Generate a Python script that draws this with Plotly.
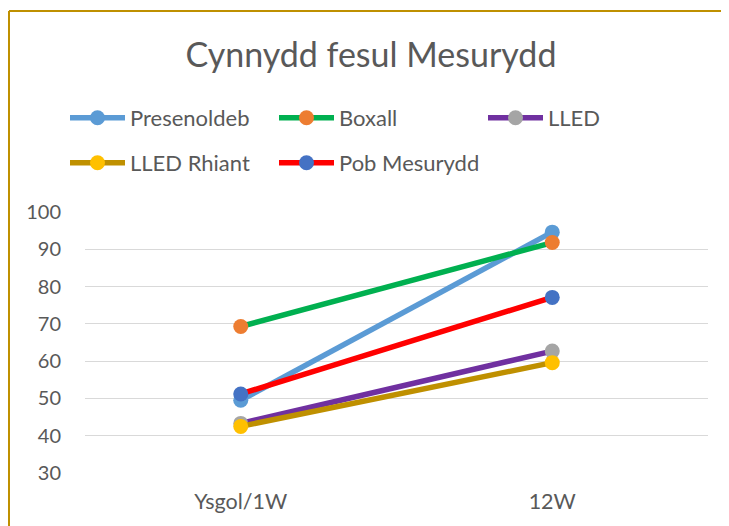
import plotly.graph_objects as go

categories = ["Ysgol/1W", "12W"]
series_names = ["Presenoldeb", "Boxall", "LLED", "LLED Rhiant", "Pob Mesurydd"]
presenoldeb = [49.5, 94.6]
boxall = [69.3, 91.8]
lled = [43.3, 62.7]
lled_rhiant = [42.5, 59.6]
pob_mesurydd = [51.2, 77.1]
y_ticks = [30, 40, 50, 60, 70, 80, 90, 100]

values = [presenoldeb, boxall, lled, lled_rhiant, pob_mesurydd]
line_colors = ["#5B9BD5", "#00B050", "#7030A0", "#BF9000", "#FF0000"]
marker_colors = ["#5B9BD5", "#ED7D31", "#A5A5A5", "#FFC000", "#4472C4"]
legend_ids = ["legend", "legend", "legend", "legend2", "legend2"]

FONT = "Lato"
TXT = "#595959"

fig = go.Figure()
for name, vals, lc, mc, lg in zip(series_names, values, line_colors, marker_colors, legend_ids):
    fig.add_trace(go.Scatter(
        x=categories, y=vals, name=name, mode="lines+markers",
        line=dict(color=lc, width=5.5),
        marker=dict(color=mc, size=15),
        legend=lg,
    ))

# the page body adds an 8px offset, so the figure is 8px smaller
W, H = 721, 518
L, R, T, B = 77, 21, 204, 53

leg_common = dict(orientation="h", x=57 / W, xanchor="left", xref="container",
                  yanchor="middle", yref="container",
                  entrywidth=139, entrywidthmode="pixels", itemwidth=55,
                  font=dict(family=FONT, size=22, color=TXT),
                  bgcolor="rgba(0,0,0,0)", traceorder="normal")

fig.update_layout(
    width=W, height=H,
    margin=dict(l=L, r=R, t=T, b=B),
    paper_bgcolor="white", plot_bgcolor="white",
    font=dict(family=FONT, color=TXT, size=20),
    title=dict(text="Cynnydd fesul Mesurydd", x=(371 - 8) / W, xanchor="center",
               xref="container", y=1 - 47 / H, yanchor="middle", yref="container",
               font=dict(family=FONT, size=34, color=TXT)),
    showlegend=True,
    legend=dict(leg_common, y=1 - 110 / H),
    legend2=dict(leg_common, y=1 - 155 / H),
    xaxis=dict(type="category", range=[-0.5, 1.5], showgrid=False, showline=False,
               zeroline=False, ticks="", ticklabelstandoff=13,
               tickfont=dict(family=FONT, size=21.5, color=TXT)),
    yaxis=dict(range=[30, 100], tickvals=y_ticks, showgrid=True, gridcolor="#D9D9D9",
               gridwidth=1.3, zeroline=False, showline=False, ticks="",
               tickfont=dict(family=FONT, size=20, color=TXT), ticklabelstandoff=23),
)

# chart border (Excel chart area outline): top and left edges visible
pw, ph = W - L - R, H - T - B
bx0 = (1 - L) / pw
bx1 = (W + 5 - L) / pw
by_top = ((H - B) - 3) / ph
by_bot = ((H - B) - (H + 5)) / ph
border = dict(color="#BF9000", width=2)
fig.add_shape(type="line", xref="paper", yref="paper",
              x0=bx0, x1=bx1, y0=by_top, y1=by_top, line=border, layer="below")
fig.add_shape(type="line", xref="paper", yref="paper",
              x0=bx0, x1=bx0, y0=by_bot, y1=by_top, line=border, layer="below")

fig.write_html("out.html", config={"displayModeBar": False})
